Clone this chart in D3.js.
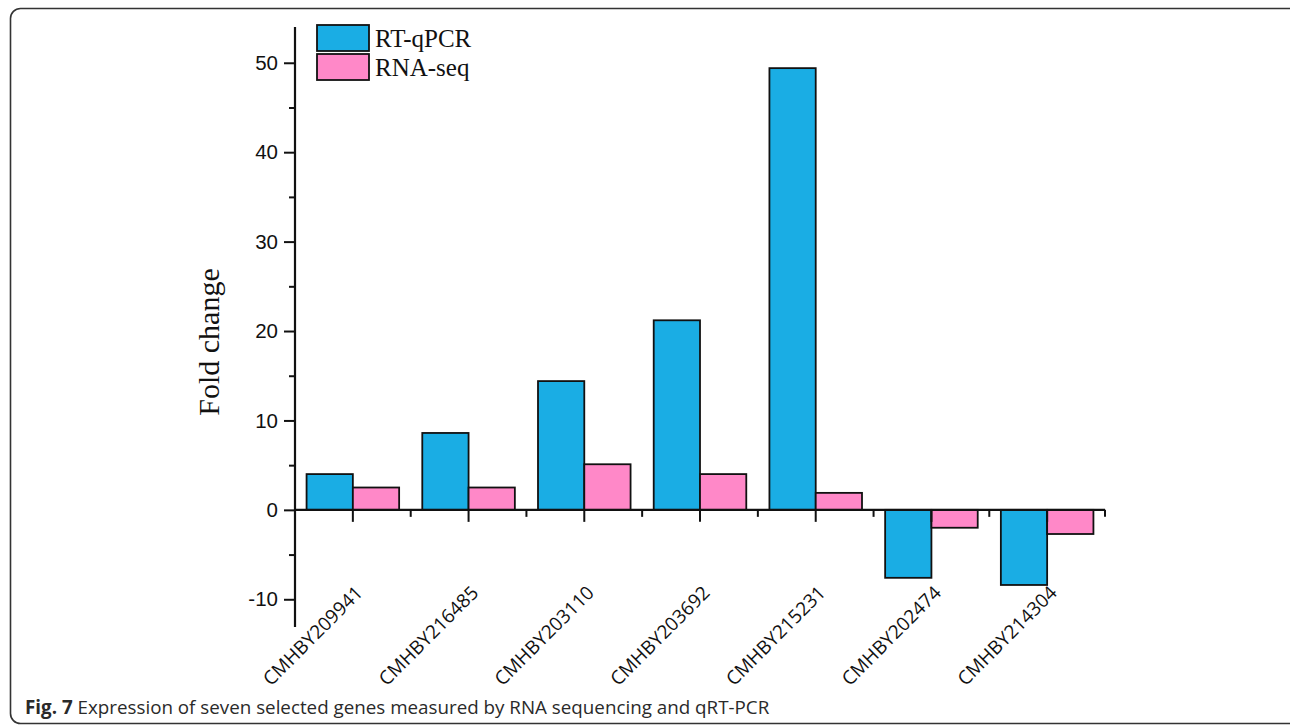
<!DOCTYPE html>
<html><head><meta charset="utf-8">
<script src="https://cdn.jsdelivr.net/npm/d3@7"></script>
<style>body{margin:0;background:#fff}svg{display:block}</style>
</head><body>
<svg id="c" width="1290" height="728"></svg>
<script>
const genes = ["CMHBY209941","CMHBY216485","CMHBY203110","CMHBY203692","CMHBY215231","CMHBY202474","CMHBY214304"];
const seriesNames = ["RT-qPCR","RNA-seq"];
const rtqpcr = [4.0, 8.6, 14.4, 21.2, 49.4, -7.6, -8.4];
const rnaseq = [2.5, 2.5, 5.1, 4.0, 1.9, -2.0, -2.7];
const yTicks = [-10, 0, 10, 20, 30, 40, 50];
const yMinor = [-5, 5, 15, 25, 35, 45];
const colors = ["#1AADE4", "#FF88C8"];

const svg = d3.select("#c");
// frame
svg.append("rect").attr("x",10.5).attr("y",8.5).attr("width",1290).attr("height",715)
  .attr("rx",10).attr("fill","none").attr("stroke","#333").attr("stroke-width",1.6);

const x0 = 295, x1 = 1105;
const y = d3.scaleLinear().domain([-13.1, 54]).range([627, 27]);
const x = d3.scaleBand().domain(genes).range([x0, x1]).paddingInner(0.2).paddingOuter(0.1);
const xs = d3.scaleBand().domain(seriesNames).range([0, x.bandwidth()]);

const data = genes.map((g,i)=>({g, vals:[rtqpcr[i], rnaseq[i]]}));
const gBars = svg.append("g");
data.forEach(d=>{
  d.vals.forEach((v,j)=>{
    gBars.append("rect")
      .attr("x", x(d.g)+xs(seriesNames[j]))
      .attr("y", y(Math.max(0,v)))
      .attr("width", xs.bandwidth())
      .attr("height", Math.abs(y(v)-y(0)))
      .attr("fill", colors[j]).attr("stroke","#111").attr("stroke-width",1.8);
  });
});

// y axis
const yAxis = svg.append("g").attr("transform",`translate(${x0},0)`)
  .call(d3.axisLeft(y).tickValues(yTicks).tickSize(11).tickPadding(6).tickFormat(d=>String(d)));
yAxis.select(".domain").attr("stroke","#111").attr("stroke-width",2.2).attr("d",`M0,${y(-13.1)}V${y(54)}`);
yAxis.selectAll(".tick line").attr("stroke","#111").attr("stroke-width",2);
yAxis.selectAll(".tick text").attr("font-family","Liberation Sans, Arial, sans-serif").attr("font-size",20.5).attr("fill","#111");
const yAxisMinor = svg.append("g").attr("transform",`translate(${x0},0)`)
  .call(d3.axisLeft(y).tickValues(yMinor).tickSize(6).tickFormat(""));
yAxisMinor.select(".domain").remove();
yAxisMinor.selectAll(".tick line").attr("stroke","#111").attr("stroke-width",2);

// x axis at zero
const xAxis = svg.append("g").attr("transform",`translate(0,${y(0)})`)
  .call(d3.axisBottom(x).tickSize(12).tickFormat(""));
xAxis.select(".domain").attr("stroke","#111").attr("stroke-width",2.2).attr("d",`M${x0},0H${x1}`);
xAxis.selectAll(".tick line").attr("stroke","#111").attr("stroke-width",2);
const step = x.step();
const minorX = d3.range(1, genes.length+1).map(k=>x0 + k*step);
svg.append("g").selectAll("line").data(minorX).join("line")
  .attr("x1",d=>d).attr("x2",d=>d).attr("y1",y(0)).attr("y2",y(0)+7)
  .attr("stroke","#111").attr("stroke-width",2);

// x labels rotated
svg.append("g").selectAll("text").data(genes).join("text")
  .attr("transform", d=>`translate(${x(d)+x.bandwidth()/2+11},${594}) rotate(-45)`)
  .attr("text-anchor","end")
  .attr("font-family","Open Sans, sans-serif").attr("font-size",19).attr("fill","#111")
  .text(d=>d);

// y title
svg.append("text").attr("transform","translate(219,342) rotate(-90)")
  .attr("text-anchor","middle").attr("font-family","Liberation Serif, Times New Roman, serif")
  .attr("font-size",30).attr("fill","#111").text("Fold change");

// legend
const leg = svg.append("g");
seriesNames.forEach((s,i)=>{
  leg.append("rect").attr("x",317).attr("y",25+i*29).attr("width",52).attr("height",26)
    .attr("fill",colors[i]).attr("stroke","#111").attr("stroke-width",1.8);
  leg.append("text").attr("x",375).attr("y",47+i*29).attr("font-family","Liberation Serif, Times New Roman, serif")
    .attr("font-size",25).attr("fill","#111").text(s);
});

// caption
const cap = svg.append("text").attr("x",25).attr("y",714).attr("font-family","Open Sans, sans-serif")
  .attr("font-size",18.8).attr("fill","#2a2a2a");
cap.append("tspan").attr("font-weight","bold").text("Fig. 7");
cap.append("tspan").attr("font-weight","normal").text(" Expression of seven selected genes measured by RNA sequencing and qRT-PCR");
</script>
</body></html>
